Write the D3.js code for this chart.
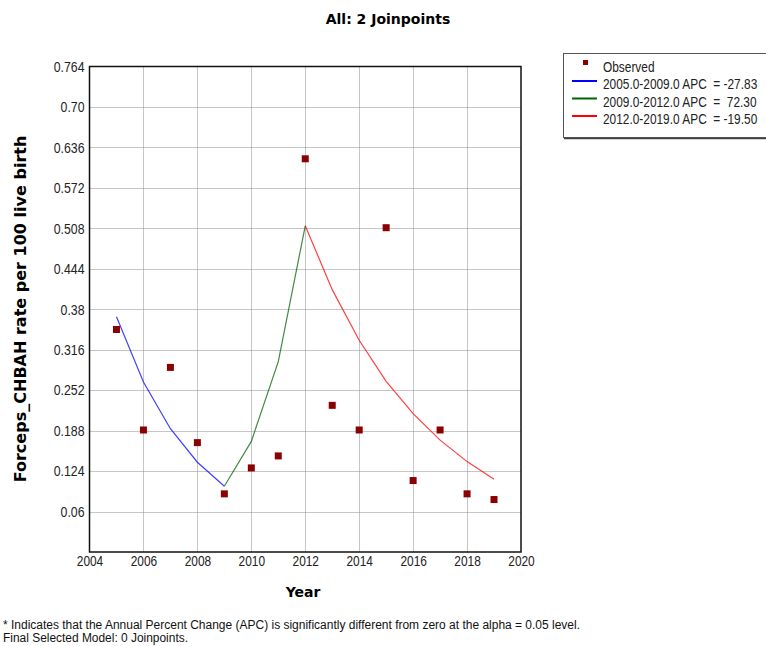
<!DOCTYPE html>
<html>
<head>
<meta charset="utf-8">
<script src="https://cdn.jsdelivr.net/npm/d3@7"></script>
<style>
  body { margin: 0; background: #fff; }
  svg { display: block; }
  .narrow { font-family: "Liberation Sans", Arial, sans-serif; }
  .bold { font-family: "DejaVu Sans", Verdana, sans-serif; font-weight: bold; }
</style>
</head>
<body>
<script>
// observed values
const years = [2005, 2006, 2007, 2008, 2009, 2010, 2011, 2012, 2013, 2014, 2015, 2016, 2017, 2018, 2019];
const observed = [0.348, 0.189, 0.288, 0.169, 0.088, 0.129, 0.148, 0.618, 0.228, 0.189, 0.509, 0.109, 0.189, 0.088, 0.079];

// fitted segments
const seg1Years = [2005, 2006, 2007, 2008, 2009];
const seg1Values = [0.368, 0.265, 0.191, 0.138, 0.100];
const seg2Years = [2009, 2010, 2011, 2012];
const seg2Values = [0.100, 0.171, 0.297, 0.512];
const seg3Years = [2012, 2013, 2014, 2015, 2016, 2017, 2018, 2019];
const seg3Values = [0.512, 0.411, 0.331, 0.266, 0.215, 0.173, 0.139, 0.111];

const segLabels = ["2005.0-2009.0 APC  = -27.83", "2009.0-2012.0 APC  =  72.30", "2012.0-2019.0 APC  = -19.50"];

// axis ticks
const xTicks = [2004, 2006, 2008, 2010, 2012, 2014, 2016, 2018, 2020];
const yTicks = [0.06, 0.124, 0.188, 0.252, 0.316, 0.38, 0.444, 0.508, 0.572, 0.636, 0.70, 0.764];
const yTickLabels = ["0.06", "0.124", "0.188", "0.252", "0.316", "0.38", "0.444", "0.508", "0.572", "0.636", "0.70", "0.764"];

const w = 766;
const h = 646;
const plotLeft = 89.5, plotRight = 521, plotTop = 66.5, plotBottom = 552;

const colorPoint = "#8b0000";
const segColors = ["#0000ff", "#006400", "#ff0000"];

// squeeze text like a narrow font
function narrow(sel) {
  sel.each(function() {
    const len = this.getComputedTextLength();
    d3.select(this)
      .attr('textLength', len * 0.82)
      .attr('lengthAdjust', 'spacingAndGlyphs');
  });
}

const svg = d3.select('body')
              .append('svg')
              .attr('width', w)
              .attr('height', h);

const xScale = d3.scaleLinear().domain([2004, 2020]).range([plotLeft, plotRight]);
const yScale = d3.scaleLinear().domain([-0.004, 0.764]).range([plotBottom, plotTop]);

// dotted grid
svg.append('g')
   .selectAll('line')
   .data(xTicks.slice(1, -1))
   .enter()
   .append('line')
   .attr('x1', d => Math.round(xScale(d)) + 0.5)
   .attr('x2', d => Math.round(xScale(d)) + 0.5)
   .attr('y1', plotTop)
   .attr('y2', plotBottom)
   .attr('stroke', '#8c8c8c')
   .attr('stroke-dasharray', '1,1');

svg.append('g')
   .selectAll('line')
   .data(yTicks.slice(0, -1))
   .enter()
   .append('line')
   .attr('x1', plotLeft)
   .attr('x2', plotRight)
   .attr('y1', d => Math.round(yScale(d)) + 0.5)
   .attr('y2', d => Math.round(yScale(d)) + 0.5)
   .attr('stroke', '#8c8c8c')
   .attr('stroke-dasharray', '1,1');

// axes (labels only, frame drawn below)
const xAxis = d3.axisBottom(xScale).tickValues(xTicks).tickFormat(d3.format('d')).tickSize(0).tickPadding(4);
svg.append('g')
   .attr('transform', `translate(0, ${plotBottom})`)
   .attr('class', 'narrow')
   .call(xAxis)
   .call(g => g.select('.domain').remove())
   .selectAll('text')
   .style('font-size', '14.5px')
   .attr('fill', '#222')
   .call(narrow);

const yAxis = d3.axisLeft(yScale).tickValues(yTicks).tickFormat((d, i) => yTickLabels[i]).tickSize(0).tickPadding(5);
svg.append('g')
   .attr('transform', `translate(${plotLeft}, 0)`)
   .attr('class', 'narrow')
   .call(yAxis)
   .call(g => g.select('.domain').remove())
   .selectAll('text')
   .style('font-size', '15px')
   .attr('fill', '#222')
   .call(narrow);

// fitted lines
const line = d3.line().x(d => xScale(d[0])).y(d => yScale(d[1]));
const segs = [
  d3.zip(seg1Years, seg1Values),
  d3.zip(seg2Years, seg2Values),
  d3.zip(seg3Years, seg3Values)
];
segs.forEach((s, i) => {
  svg.append('path')
     .datum(s)
     .attr('d', line)
     .attr('fill', 'none')
     .attr('stroke', segColors[i])
     .attr('stroke-opacity', 0.75)
     .attr('stroke-width', 1.2);
});

// observed points
svg.selectAll('rect.dot')
   .data(d3.zip(years, observed))
   .enter()
   .append('rect')
   .attr('class', 'dot')
   .attr('x', d => xScale(d[0]) - 3.5)
   .attr('y', d => yScale(d[1]) - 3.5)
   .attr('width', 7)
   .attr('height', 7)
   .attr('fill', colorPoint);

// frame
svg.append('rect')
   .attr('x', plotLeft)
   .attr('y', plotTop)
   .attr('width', plotRight - plotLeft)
   .attr('height', plotBottom - plotTop)
   .attr('fill', 'none')
   .attr('stroke', '#111')
   .attr('stroke-width', 1.5);

// titles
svg.append('text')
   .attr('class', 'bold')
   .attr('x', 388)
   .attr('y', 24)
   .attr('text-anchor', 'middle')
   .style('font-size', '14px')
   .text('All: 2 Joinpoints');

svg.append('text')
   .attr('class', 'bold')
   .attr('x', 303)
   .attr('y', 597)
   .attr('text-anchor', 'middle')
   .style('font-size', '14px')
   .text('Year');

const yLabel = svg.append('text')
   .attr('class', 'bold')
   .attr('transform', 'translate(26, 309) rotate(-90)')
   .attr('text-anchor', 'middle')
   .style('font-size', '13px')
   .text('Forceps_CHBAH rate per 100 live birth');
// fit the label to its length in the picture
const len = yLabel.node().getComputedTextLength();
yLabel.style('font-size', (13 * 347 / len) + 'px');

// legend (runs past the right edge as in the source)
svg.append('rect')
   .attr('x', 563.5)
   .attr('y', 53.5)
   .attr('width', 204)
   .attr('height', 84)
   .attr('fill', '#fff')
   .attr('stroke', '#555')
   .attr('stroke-width', 1);
svg.append('line')
   .attr('x1', 564).attr('x2', 766)
   .attr('y1', 138.5).attr('y2', 138.5)
   .attr('stroke', '#444').attr('stroke-width', 1.5);

svg.append('rect')
   .attr('x', 583)
   .attr('y', 60)
   .attr('width', 5)
   .attr('height', 5)
   .attr('fill', colorPoint);

const legendTexts = ['Observed'].concat(segLabels);
legendTexts.forEach((t, i) => {
  const yy = 81 + (i - 1) * 17.5;
  if (i > 0) {
    svg.append('line')
       .attr('x1', 572).attr('x2', 597)
       .attr('y1', yy).attr('y2', yy)
       .attr('stroke', segColors[i - 1])
       .attr('stroke-width', 2);
  }
  svg.append('g')
     .attr('transform', `translate(603, ${i == 0 ? 72 : yy + 8}) scale(0.82, 1)`)
     .append('text')
     .attr('class', 'narrow')
     .style('font-size', '14.5px')
     .style('white-space', 'pre')
     .attr('fill', '#222')
     .text(t);
});

// footnote
svg.append('text')
   .attr('class', 'narrow')
   .attr('x', 3)
   .attr('y', 629)
   .style('font-size', '12px')
   .attr('textLength', 577)
   .attr('lengthAdjust', 'spacingAndGlyphs')
   .attr('fill', '#111')
   .text('* Indicates that the Annual Percent Change (APC) is significantly different from zero at the alpha = 0.05 level.');
svg.append('text')
   .attr('class', 'narrow')
   .attr('x', 3)
   .attr('y', 642)
   .style('font-size', '12px')
   .attr('textLength', 185)
   .attr('lengthAdjust', 'spacingAndGlyphs')
   .attr('fill', '#111')
   .text('Final Selected Model: 0 Joinpoints.');
</script>
</body>
</html>
